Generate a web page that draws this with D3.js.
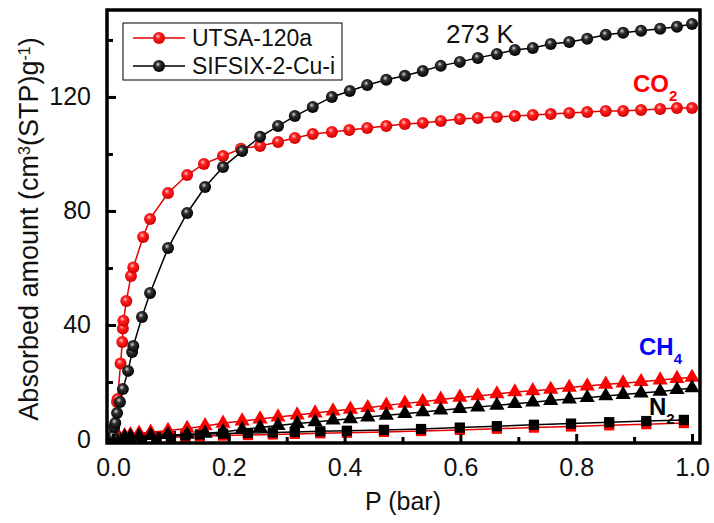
<!DOCTYPE html>
<html>
<head>
<meta charset="utf-8">
<script src="https://cdn.jsdelivr.net/npm/d3@7"></script>
<style>
  body { margin: 0; background: #fff; }
  svg { font-family: "Liberation Sans", Arial, sans-serif; }
</style>
</head>
<body>
<div id="chart"></div>
<script>
// CO2 isotherms, 273 K
const pCO2Utsa = [0.002, 0.007, 0.008, 0.013, 0.016, 0.017, 0.018, 0.023, 0.031, 0.035, 0.052, 0.064, 0.095, 0.128, 0.157, 0.19, 0.221, 0.254, 0.285, 0.314, 0.345, 0.378, 0.408, 0.439, 0.472, 0.504, 0.535, 0.566, 0.599, 0.63, 0.663, 0.694, 0.725, 0.756, 0.788, 0.819, 0.851, 0.881, 0.912, 0.945, 0.974, 1.0];
const co2Utsa = [2.0, 13.0, 14.0, 26.5, 34.0, 38.8, 41.5, 48.4, 57.2, 60.2, 70.9, 77.2, 86.3, 92.6, 96.5, 99.3, 101.8, 102.8, 104.2, 105.6, 107.0, 107.7, 108.4, 109.1, 109.8, 110.5, 110.9, 111.6, 112.3, 112.6, 113.0, 113.3, 113.7, 114.0, 114.4, 114.7, 115.1, 115.1, 115.4, 115.8, 116.1, 116.1];

const pCO2Sifsix = [0.0, 0.002, 0.004, 0.007, 0.012, 0.017, 0.026, 0.033, 0.035, 0.05, 0.064, 0.095, 0.128, 0.159, 0.19, 0.223, 0.254, 0.285, 0.314, 0.345, 0.378, 0.409, 0.439, 0.472, 0.504, 0.535, 0.566, 0.599, 0.63, 0.663, 0.694, 0.725, 0.756, 0.788, 0.819, 0.851, 0.881, 0.912, 0.945, 0.974, 1.0];
const co2Sifsix = [1.0, 4.2, 5.6, 9.1, 13.0, 17.5, 23.9, 30.5, 32.6, 42.8, 51.2, 67.0, 79.3, 88.4, 95.4, 101.0, 106.0, 109.8, 113.3, 116.5, 120.0, 122.1, 124.2, 126.0, 127.4, 129.1, 130.9, 132.3, 133.7, 135.1, 136.5, 137.2, 138.6, 139.3, 140.4, 141.8, 142.5, 143.2, 143.9, 144.6, 145.6];

// CH4 isotherms
const pCH4 = [0.005, 0.01, 0.02, 0.03, 0.045, 0.065, 0.095, 0.128, 0.159, 0.19, 0.223, 0.254, 0.285, 0.318, 0.349, 0.38, 0.41, 0.44, 0.472, 0.504, 0.535, 0.566, 0.599, 0.63, 0.663, 0.694, 0.725, 0.756, 0.788, 0.819, 0.851, 0.881, 0.912, 0.945, 0.974, 1.0];
const ch4Utsa = [0.4, 0.7, 1.1, 1.5, 2.0, 2.4, 3.0, 3.7, 4.6, 5.5, 6.3, 7.0, 7.7, 8.4, 9.1, 9.8, 10.4, 11.0, 11.8, 12.5, 13.1, 13.9, 14.6, 15.1, 15.8, 16.5, 16.9, 17.4, 18.1, 18.6, 19.2, 19.6, 20.1, 20.7, 21.2, 21.6];
const ch4Sifsix = [0.2, 0.4, 0.6, 0.8, 1.0, 1.2, 1.5, 1.6, 2.0, 2.5, 3.3, 4.0, 4.7, 5.4, 6.0, 6.6, 7.1, 7.7, 8.3, 8.9, 9.5, 10.1, 10.7, 11.2, 11.8, 12.4, 12.9, 13.5, 14.0, 14.5, 15.1, 15.6, 16.1, 16.7, 17.3, 17.9];

// N2 isotherms
const pN2 = [0.01, 0.03, 0.05, 0.075, 0.1, 0.125, 0.15, 0.19, 0.233, 0.276, 0.314, 0.358, 0.404, 0.468, 0.532, 0.599, 0.663, 0.727, 0.791, 0.857, 0.921, 0.986];
const n2Utsa = [0.1, 0.2, 0.3, 0.5, 0.6, 0.8, 1.0, 1.2, 1.4, 1.6, 1.8, 2.0, 2.2, 2.5, 2.8, 3.2, 3.6, 4.0, 4.4, 4.8, 5.2, 5.6];
const n2Sifsix = [0.2, 0.4, 0.6, 0.8, 1.0, 1.3, 1.6, 1.9, 2.1, 2.3, 2.5, 2.7, 2.9, 3.2, 3.5, 4.0, 4.5, 5.0, 5.4, 5.9, 6.3, 6.7];

const xMajor = [0, 0.2, 0.4, 0.6, 0.8, 1.0];
const xMinor = [0.1, 0.3, 0.5, 0.7, 0.9];
const yMajor = [0, 40, 80, 120];
const yMinor = [20, 60, 100, 140];

const RED = '#ff0000';
const RED_LINE = '#e60000';
const BLACK = '#000000';

const width = 714, height = 523;
const mLeft = 107, mRight = 700, mTop = 10, mBottom = 443;

const svg = d3.select('#chart').append('svg')
    .attr('width', width)
    .attr('height', height);

const defs = svg.append('defs');
function ballGradient(id, hi, mid, edge) {
    const g = defs.append('radialGradient')
        .attr('id', id)
        .attr('cx', '45%').attr('cy', '40%').attr('r', '60%')
        .attr('fx', '40%').attr('fy', '35%');
    g.append('stop').attr('offset', '0%').attr('stop-color', hi);
    g.append('stop').attr('offset', '35%').attr('stop-color', mid);
    g.append('stop').attr('offset', '100%').attr('stop-color', edge);
}
ballGradient('ballRed', '#ffd0d0', '#ff2020', '#d00000');
ballGradient('ballBlack', '#d8d8d8', '#303030', '#000000');

const x = d3.scaleLinear().domain([-0.0104, 1.0138]).range([mLeft, mRight]);
const y = d3.scaleLinear().domain([-1.4, 150.5]).range([mBottom, mTop]);

const plot = svg.append('g');
const clipId = 'plotClip';
defs.append('clipPath').attr('id', clipId)
    .append('rect').attr('x', mLeft).attr('y', mTop - 8).attr('width', mRight - mLeft + 8).attr('height', mBottom - mTop + 8);

const line = d3.line().x(d => x(d[0])).y(d => y(d[1]));
const zip = (xs, ys) => xs.map((v, i) => [v, ys[i]]);

function drawSeries(xs, ys, color, shape, fill) {
    const data = zip(xs, ys);
    const g = plot.append('g').attr('clip-path', `url(#${clipId})`);
    g.append('path')
        .datum(data)
        .attr('d', line)
        .attr('fill', 'none')
        .attr('stroke', color)
        .attr('stroke-width', 1.5);
    if (shape === 'circle') {
        g.selectAll('circle').data(data).enter().append('circle')
            .attr('cx', d => x(d[0]))
            .attr('cy', d => y(d[1]))
            .attr('r', 6)
            .attr('fill', fill);
    } else {
        const sym = d3.symbol()
            .type(shape === 'triangle' ? d3.symbolTriangle : d3.symbolSquare)
            .size(shape === 'triangle' ? 100 : 105);
        g.selectAll('path.m').data(data).enter().append('path')
            .attr('class', 'm')
            .attr('d', sym)
            .attr('transform', d => `translate(${x(d[0])},${y(d[1])})`)
            .attr('fill', fill);
    }
}

drawSeries(pN2, n2Utsa, RED_LINE, 'square', RED);
drawSeries(pN2, n2Sifsix, BLACK, 'square', BLACK);
drawSeries(pCH4, ch4Utsa, RED_LINE, 'triangle', RED);
drawSeries(pCH4, ch4Sifsix, BLACK, 'triangle', BLACK);
drawSeries(pCO2Utsa, co2Utsa, RED_LINE, 'circle', 'url(#ballRed)');
drawSeries(pCO2Sifsix, co2Sifsix, BLACK, 'circle', 'url(#ballBlack)');

// axes, ticks pointing inward
svg.append('g')
    .attr('transform', `translate(${mLeft},0)`)
    .call(d3.axisLeft(y).tickValues(yMajor).tickSize(-9).tickPadding(16));
svg.append('g')
    .attr('transform', `translate(${mLeft},0)`)
    .call(d3.axisLeft(y).tickValues(yMinor).tickSize(-6).tickFormat(''));

svg.append('g')
    .attr('transform', `translate(0,${mBottom})`)
    .call(d3.axisBottom(x).tickValues(xMajor).tickSize(-9).tickPadding(15).tickFormat(d3.format('.1f')));
svg.append('g')
    .attr('transform', `translate(0,${mBottom})`)
    .call(d3.axisBottom(x).tickValues(xMinor).tickSize(-6).tickFormat(''));

svg.selectAll('.domain').remove();
svg.selectAll('.tick line').attr('stroke', '#000').attr('stroke-width', 3);
svg.selectAll('.tick text')
    .attr('fill', '#111')
    .style('font-size', '25px')
    .style('font-family', '"Liberation Sans", Arial, sans-serif');

// frame
svg.append('rect')
    .attr('x', mLeft).attr('y', mTop)
    .attr('width', mRight - mLeft).attr('height', mBottom - mTop)
    .attr('fill', 'none')
    .attr('stroke', '#000')
    .attr('stroke-width', 3.5);

// axis titles
svg.append('text')
    .attr('x', 403).attr('y', 510)
    .attr('text-anchor', 'middle')
    .style('font-size', '25px')
    .attr('fill', '#111')
    .text('P (bar)');

const yTitle = svg.append('text')
    .attr('transform', 'translate(38,229) rotate(-90)')
    .attr('text-anchor', 'middle')
    .style('font-size', '27px')
    .attr('fill', '#111');
yTitle.append('tspan').text('Absorbed amount (cm');
yTitle.append('tspan').attr('baseline-shift', 'super').style('font-size', '16px').text('3');
yTitle.append('tspan').text('(STP)g');
yTitle.append('tspan').attr('baseline-shift', 'super').style('font-size', '16px').text('-1');
yTitle.append('tspan').text(')');

// annotations
svg.append('text')
    .attr('x', 446).attr('y', 43)
    .style('font-size', '26px')
    .attr('fill', '#111')
    .text('273 K');

function gasLabel(xp, yp, main, sub, color) {
    const t = svg.append('text')
        .attr('x', xp).attr('y', yp)
        .style('font-size', '24px')
        .style('font-weight', 'bold')
        .attr('fill', color);
    t.append('tspan').text(main);
    t.append('tspan').attr('baseline-shift', 'sub').style('font-size', '15px').text(sub);
}
gasLabel(633, 92, 'CO', '2', RED);
gasLabel(639, 355, 'CH', '4', '#0000ff');
gasLabel(649, 415, 'N', '2', BLACK);

// legend
const legend = svg.append('g');
legend.append('rect')
    .attr('x', 123).attr('y', 23)
    .attr('width', 219).attr('height', 57)
    .attr('fill', '#fff')
    .attr('stroke', '#000')
    .attr('stroke-width', 1);

const legendItems = [
    {name: 'UTSA-120a', color: RED_LINE, fill: 'url(#ballRed)', yy: 38},
    {name: 'SIFSIX-2-Cu-i', color: BLACK, fill: 'url(#ballBlack)', yy: 66}
];
legendItems.forEach(item => {
    legend.append('line')
        .attr('x1', 133).attr('x2', 185)
        .attr('y1', item.yy).attr('y2', item.yy)
        .attr('stroke', item.color)
        .attr('stroke-width', 1.5);
    legend.append('circle')
        .attr('cx', 159).attr('cy', item.yy)
        .attr('r', 6)
        .attr('fill', item.fill);
    legend.append('text')
        .attr('x', 192).attr('y', item.yy + 8)
        .style('font-size', '23px')
        .attr('fill', '#111')
        .text(item.name);
});
</script>
</body>
</html>
